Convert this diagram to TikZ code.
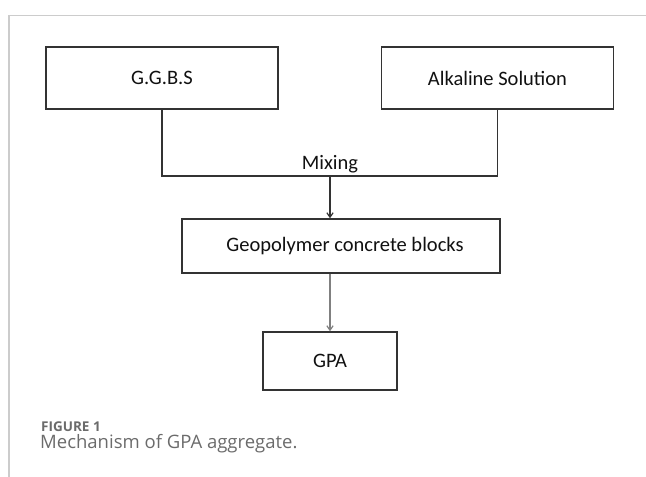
\documentclass[tikz,border=0pt]{standalone}
\usepackage{fontspec}
\setmainfont{Carlito}
\newfontfamily\capfont{Open Sans}
\usepackage{xcolor}
\usepackage{tikz}
\usetikzlibrary{arrows.meta}
\definecolor{boxline}{HTML}{333333}
\definecolor{framegray}{HTML}{CCCCCC}
\definecolor{captext}{HTML}{6B6B6B}
\definecolor{labtext}{HTML}{111111}
\tikzset{
  ar/.style={-{Straight Barb[length=1.6mm,width=2.2mm]},line width=1.2pt,boxline},
  box/.style={draw=boxline,line width=1.4pt,fill=white,align=center,inner sep=0pt,
    font=\fontsize{20.5}{22}\selectfont,text=labtext}
}
\begin{document}
\begin{tikzpicture}[x=1pt,y=-1pt]
\useasboundingbox (0,0) rectangle (646,477);
\draw[framegray,line width=1.2pt] (9,477)--(9,15.5)--(646,15.5);
\node[box,minimum width=232pt,minimum height=62pt] (ggbs) at (162,78) {G.G.B.S};
\node[box,minimum width=232pt,minimum height=62pt] (alk) at (497.5,78) {Alkaline Solution};
\node[box,minimum width=318pt,minimum height=54pt] (geo) at (341,246) {\hspace{8pt}Geopolymer concrete blocks};
\node[box,minimum width=134pt,minimum height=58pt] (gpa) at (330,361) {GPA};
\coordinate (mix) at (330,176);
\draw[boxline,line width=1.4pt] (ggbs.south)--(ggbs.south |- mix)--(alk.south |- mix)--(alk.south);
\node[font=\fontsize{20.5}{22}\selectfont,text=labtext,above,inner sep=3pt] (mixlab) at (mix) {Mixing};
\draw[ar] (mix)--(mix |- geo.north);
\draw[ar,gray] (gpa.north |- geo.south)--(gpa.north);
\node[font=\capfont\bfseries\fontsize{13.5}{15}\selectfont,text=captext,anchor=base west,inner sep=0pt] (fig) at (41,431) {FIGURE 1};
\node[font=\capfont\fontsize{18.5}{20}\selectfont,text=captext,anchor=base west,inner sep=0pt] (cap) at (40,448.5) {Mechanism of GPA aggregate.};
\end{tikzpicture}
\end{document}
